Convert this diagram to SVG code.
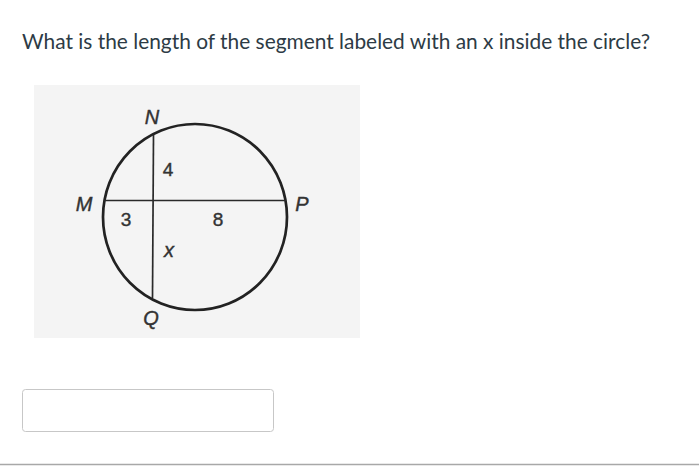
<svg xmlns="http://www.w3.org/2000/svg" width="699" height="467" viewBox="0 0 699 467">
  <style>
    .title { font-family: Lato, "Liberation Sans", sans-serif; font-size: 20.9px; fill: #2d3b45; }
    .pt { font-family: "Liberation Sans", Arial, sans-serif; font-size: 20px; font-style: italic; fill: #333; stroke: #333; stroke-width: 0.4; text-anchor: middle; }
    .num { font-family: "Liberation Sans", Arial, sans-serif; font-size: 19px; fill: #333; stroke: #333; stroke-width: 0.4; text-anchor: middle; }
    .chord { stroke: #2a2a2a; stroke-width: 1.7; fill: none; }
  </style>
  <rect x="0" y="0" width="699" height="467" fill="#ffffff"/>
  <text class="title" x="22" y="49">What is the length of the segment labeled with an x inside the circle?</text>

  <g id="figure">
    <rect x="34" y="85" width="326" height="253" fill="#f4f4f4"/>
    <g id="circle">
      <ellipse cx="195" cy="217" rx="92" ry="93" fill="none" stroke="#222" stroke-width="2.7"/>
    </g>
    <g id="connectors">
      <line class="chord" x1="104" y1="200.5" x2="286" y2="200.5"/>
      <line class="chord" x1="153.5" y1="135" x2="152.5" y2="298"/>
    </g>
    <g id="N"><text class="pt" x="152" y="124">N</text></g>
    <g id="M"><text class="pt" x="84" y="211">M</text></g>
    <g id="P"><text class="pt" x="302" y="211">P</text></g>
    <g id="Q"><text class="pt" x="151" y="325">Q</text></g>
    <g id="lbl4"><text class="num" x="168" y="176">4</text></g>
    <g id="lbl3"><text class="num" x="126" y="226">3</text></g>
    <g id="lbl8"><text class="num" x="218" y="226">8</text></g>
    <g id="lblx"><text class="pt" x="169" y="257">x</text></g>
  </g>

  <g id="answer">
    <rect x="22.5" y="389.5" width="251" height="42" rx="3" ry="3" fill="#ffffff" stroke="#c7c7c7" stroke-width="1"/>
  </g>
  <line x1="0" y1="464.5" x2="699" y2="464.5" stroke="#a8a8a8" stroke-width="1.5"/>
</svg>
